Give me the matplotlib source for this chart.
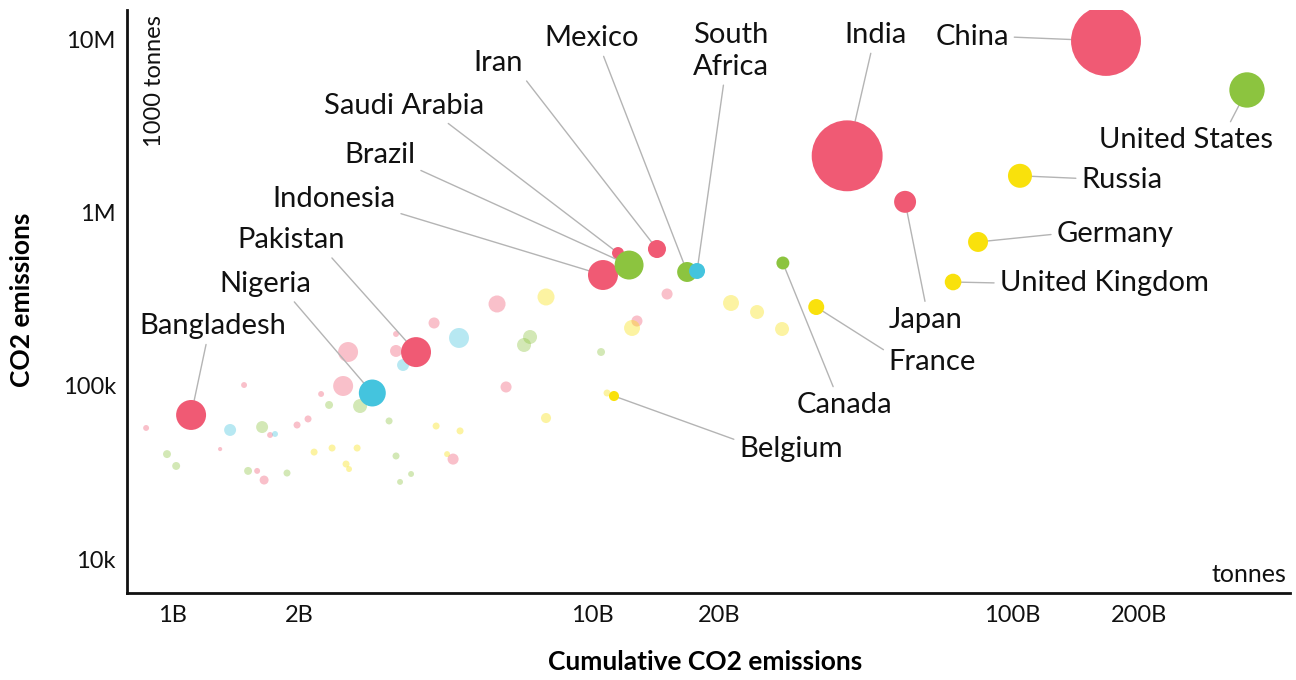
import matplotlib.pyplot as plt
from matplotlib.ticker import FixedLocator, FixedFormatter, NullLocator

plt.rcParams["font.family"] = ["Lato", "DejaVu Sans"]

REGION_COLORS = {
    "asia": "#f05a74",
    "americas": "#8cc43f",
    "europe": "#f9e10c",
    "africa": "#44c4de",
}
FADED_ALPHA = 0.38
SIZE_PER_MILLION = 1.81  # marker area (pt^2) per million people

# labelled countries, drawn back to front
COUNTRIES = [
    "China", "United States", "India", "Russia", "Japan", "Germany",
    "United Kingdom", "France", "Canada", "Belgium", "Iran", "Saudi Arabia",
    "Indonesia", "Brazil", "Mexico", "South\nAfrica", "Pakistan", "Nigeria",
    "Bangladesh",
]
CUMULATIVE = [167.0, 361.8, 40.4, 104.2, 55.5, 82.8, 72.2, 34.1, 28.4, 11.25,
              14.24, 11.5, 10.59, 12.22, 16.8, 17.74, 3.80, 2.99, 1.107]  # billion t
ANNUAL = [9.87e6, 5.14e6, 2.14e6, 1.64e6, 1.16e6, 6.80e5, 3.99e5, 2.86e5,
          5.14e5, 8.75e4, 6.19e5, 5.87e5, 4.38e5, 5.0e5, 4.56e5, 4.62e5,
          1.57e5, 9.11e4, 6.80e4]  # thousand t
POPULATION = [1400, 358, 1440, 165, 138, 114, 79, 73, 48, 29, 93, 41, 257,
              240, 114, 73, 257, 208, 257]  # millions
REGION = ["asia", "americas", "asia", "europe", "asia", "europe", "europe",
          "europe", "americas", "europe", "asia", "asia", "asia", "americas",
          "americas", "africa", "asia", "africa", "asia"]

# everyone else, drawn faded
OTHER_CUMULATIVE = [
    4.195, 2.618, 3.405, 3.405, 2.548, 1.480, 2.258, 0.865, 1.707, 1.979,
    2.102, 1.298, 4.656, 1.590, 1.652, 5.925, 15.05, 12.76, 6.225,
    4.81, 3.539, 1.371, 1.754,
    2.359, 2.796, 3.278, 1.634, 0.970, 1.020, 3.405, 1.513, 1.873, 3.698,
    3.481, 7.10, 6.87, 10.48,
    4.242, 4.837, 2.173, 2.398, 2.751, 4.505, 2.589, 2.632, 7.75, 12.42,
    10.83, 7.75, 21.37, 24.65, 28.27,
]
OTHER_ANNUAL = [
    231.3e3, 157.2e3, 199.8e3, 159.4e3, 100.0e3, 101.3e3, 89.9e3, 57.2e3,
    52.1e3, 59.5e3, 64.5e3, 43.2e3, 37.8e3, 32.3e3, 28.6e3, 297.9e3,
    340.2e3, 237.5e3, 98.7e3,
    189.5e3, 132.2e3, 55.7e3, 52.8e3,
    77.7e3, 76.6e3, 62.8e3, 57.9e3, 40.4e3, 34.5e3, 39.4e3, 32.3e3, 31.4e3,
    31.0e3, 27.9e3, 192.0e3, 172.6e3, 157.2e3,
    58.7e3, 55.0e3, 41.5e3, 43.8e3, 43.8e3, 40.4e3, 35.4e3, 33.1e3, 327.0e3,
    216.4e3, 91.1e3, 65.3e3, 301.8e3, 267.7e3, 213.5e3,
]
OTHER_POPULATION = [
    35, 114, 10, 41, 114, 10, 10, 10, 10, 14, 14, 5, 35, 10, 23, 83, 35, 35, 35,
    114, 41, 41, 10,
    18, 56, 14, 41, 18, 18, 14, 18, 14, 10, 10, 56, 56, 18,
    14, 14, 14, 14, 14, 10, 14, 10, 83, 73, 14, 29, 73, 56, 56,
]
OTHER_REGION = ["asia"] * 19 + ["africa"] * 4 + ["americas"] * 14 + ["europe"] * 15

# label placement: offset of label centre from bubble centre (pixels),
# and where on the label box the leader line leaves
LABEL_OFFSETS = [
    (-134, 4), (-61, -50), (28, 121), (102, -4), (21, -118), (137, 8),
    (151, -1), (116, -55), (62, -142), (177, -53), (-159, 186), (-214, 147),
    (-269, 76), (-249, 110), (-96, 234), (34, 220), (-125, 112), (-107, 109),
    (22, 89),
]
LINE_ANCHORS = [
    (1.0, 0.5), (0.74, 1.0), (0.45, 0.0), (0.0, 0.55), (0.5, 1.0), (0.0, 0.5),
    (0.0, 0.5), (0.0, 0.85), (0.4, 1.0), (0.0, 0.8), (1.0, 0.0), (0.74, 0.0),
    (1.0, 0.0), (1.0, 0.0), (0.61, 0.0), (0.41, 0.0), (0.84, 0.0), (0.77, 0.0),
    (0.46, 0.0),
]

X_TICKS = [1, 2, 10, 20, 100, 200]
X_TICK_LABELS = ["1B", "2B", "10B", "20B", "100B", "200B"]
Y_TICKS = [1e4, 1e5, 1e6, 1e7]
Y_TICK_LABELS = ["10k", "100k", "1M", "10M"]


def bubble_sizes(pop):
    return [p * SIZE_PER_MILLION for p in pop]


def draw():
    fig = plt.figure(figsize=(12.96, 6.8), dpi=100)
    ax = fig.add_axes([127 / 1296, 87 / 680, 1163 / 1296, 583 / 680])
    ax.set_xscale("log")
    ax.set_yscale("log")
    ax.set_xlim(0.779, 458)
    ax.set_ylim(6361, 1.49e7)

    ax.scatter(OTHER_CUMULATIVE, OTHER_ANNUAL, s=bubble_sizes(OTHER_POPULATION),
               c=[REGION_COLORS[r] for r in OTHER_REGION], alpha=FADED_ALPHA,
               linewidths=0, zorder=2)
    ax.scatter(CUMULATIVE, ANNUAL, s=bubble_sizes(POPULATION),
               c=[REGION_COLORS[r] for r in REGION], linewidths=0, zorder=4)

    for name, x, y, off, anchor in zip(COUNTRIES, CUMULATIVE, ANNUAL,
                                       LABEL_OFFSETS, LINE_ANCHORS):
        ax.annotate(name, xy=(x, y), xytext=off, textcoords="offset pixels",
                    ha="center", va="center", fontsize=21, color="#111111",
                    linespacing=1.25, zorder=3,
                    arrowprops=dict(arrowstyle="-", color="#b4b4b4", lw=1.0,
                                    relpos=anchor, shrinkA=2, shrinkB=0))

    for side in ("top", "right"):
        ax.spines[side].set_visible(False)
    for side in ("left", "bottom"):
        ax.spines[side].set_linewidth(2.0)
        ax.spines[side].set_color("#111111")

    ax.xaxis.set_major_locator(FixedLocator(X_TICKS))
    ax.xaxis.set_major_formatter(FixedFormatter(X_TICK_LABELS))
    ax.yaxis.set_major_locator(FixedLocator(Y_TICKS))
    ax.yaxis.set_major_formatter(FixedFormatter(Y_TICK_LABELS))
    ax.xaxis.set_minor_locator(NullLocator())
    ax.yaxis.set_minor_locator(NullLocator())
    ax.tick_params(length=0, labelsize=17, colors="#111111")
    ax.tick_params(axis="x", pad=9)
    ax.tick_params(axis="y", pad=8)

    ax.text(0.024, 0.992, "1000 tonnes", transform=ax.transAxes, rotation=90,
            ha="center", va="top", fontsize=17, color="#111111")
    ax.text(0.997, 0.031, "tonnes", transform=ax.transAxes,
            ha="right", va="center", fontsize=18, color="#111111")

    fig.text(705 / 1296, 1 - 662 / 680, "Cumulative CO2 emissions",
             ha="center", va="center", fontsize=19, fontweight="bold")
    fig.text(22 / 1296, 1 - 300 / 680, "CO2 emissions", rotation=90,
             ha="center", va="center", fontsize=19, fontweight="bold")

    fig.savefig("out.png", dpi=100)


if __name__ == "__main__":
    draw()
